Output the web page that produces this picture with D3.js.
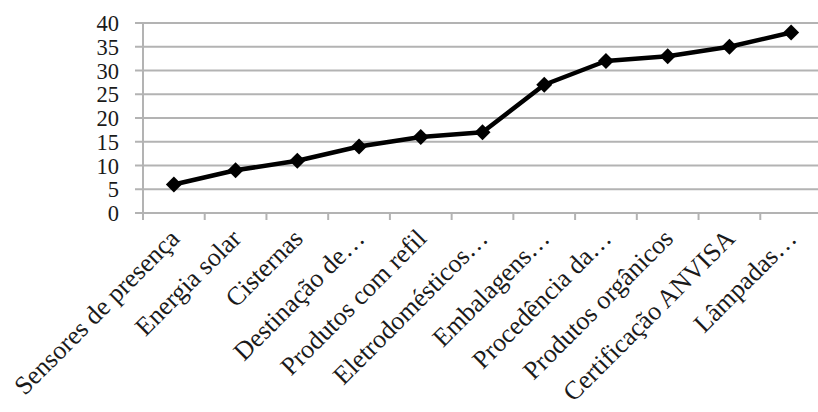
<!DOCTYPE html>
<html><head><meta charset="utf-8">
<script src="https://cdn.jsdelivr.net/npm/d3@7"></script>
<style>body{margin:0;background:#fff}svg{display:block}</style>
</head><body>
<script>
const categories = ["Sensores de presença","Energia solar","Cisternas","Destinação de…","Produtos com refil","Eletrodomésticos…","Embalagens…","Procedência da…","Produtos orgânicos","Certificação ANVISA","Lâmpadas…"];
const values = [6, 9, 11, 14, 16, 17, 27, 32, 33, 35, 38];
const yTicks = [0, 5, 10, 15, 20, 25, 30, 35, 40];

(function () {
const W = 818, H = 412;
const svg = d3.select("body").append("svg").attr("width", W).attr("height", H);
const mLeft = 143, mTop = 23, mBottom = 213, mRight = 822;
const x = d3.scaleBand().domain(categories).range([mLeft, mRight]);
const y = d3.scaleLinear().domain([0, 40]).range([mBottom, mTop]);
const font = "'Liberation Serif', 'Times New Roman', serif";
const grid = "#b3b3b3";

svg.append("g").selectAll("line").data(yTicks).join("line")
  .attr("x1", mLeft - 8).attr("x2", W).attr("y1", d => y(d)).attr("y2", d => y(d))
  .attr("stroke", grid).attr("stroke-width", 2);
svg.append("line").attr("x1", mLeft).attr("x2", mLeft).attr("y1", mTop).attr("y2", mBottom + 7)
  .attr("stroke", grid).attr("stroke-width", 2);
const xt = categories.map(c => x(c)).concat([mRight]);
svg.append("g").selectAll("line").data(xt).join("line")
  .attr("x1", d => d).attr("x2", d => d).attr("y1", mBottom).attr("y2", mBottom + 7)
  .attr("stroke", grid).attr("stroke-width", 2);
svg.append("g").selectAll("text").data(yTicks).join("text")
  .attr("x", 119).attr("y", d => y(d)).attr("dy", "0.36em")
  .attr("text-anchor", "end").attr("font-family", font).attr("font-size", 22.5)
  .attr("fill", "#1a1a1a").text(d => d);
svg.append("g").selectAll("text").data(categories).join("text")
  .attr("transform", d => `translate(${x(d) + x.bandwidth()/2 + 7},${mBottom + 27}) rotate(-45)`)
  .attr("text-anchor", "end").attr("font-family", font).attr("font-size", 26)
  .attr("fill", "#1a1a1a").text(d => d);
const cx = d => x(d) + x.bandwidth()/2;
svg.append("path").datum(values)
  .attr("d", d3.line().x((v, i) => cx(categories[i])).y(v => y(v)))
  .attr("fill", "none").attr("stroke", "#000").attr("stroke-width", 4.5).attr("stroke-linejoin", "round");
svg.append("g").selectAll("path").data(values).join("path")
  .attr("transform", (v, i) => `translate(${cx(categories[i])},${y(v)})`)
  .attr("d", "M0,-8L8,0L0,8L-8,0Z").attr("fill", "#000");
})();
</script>
</body></html>
